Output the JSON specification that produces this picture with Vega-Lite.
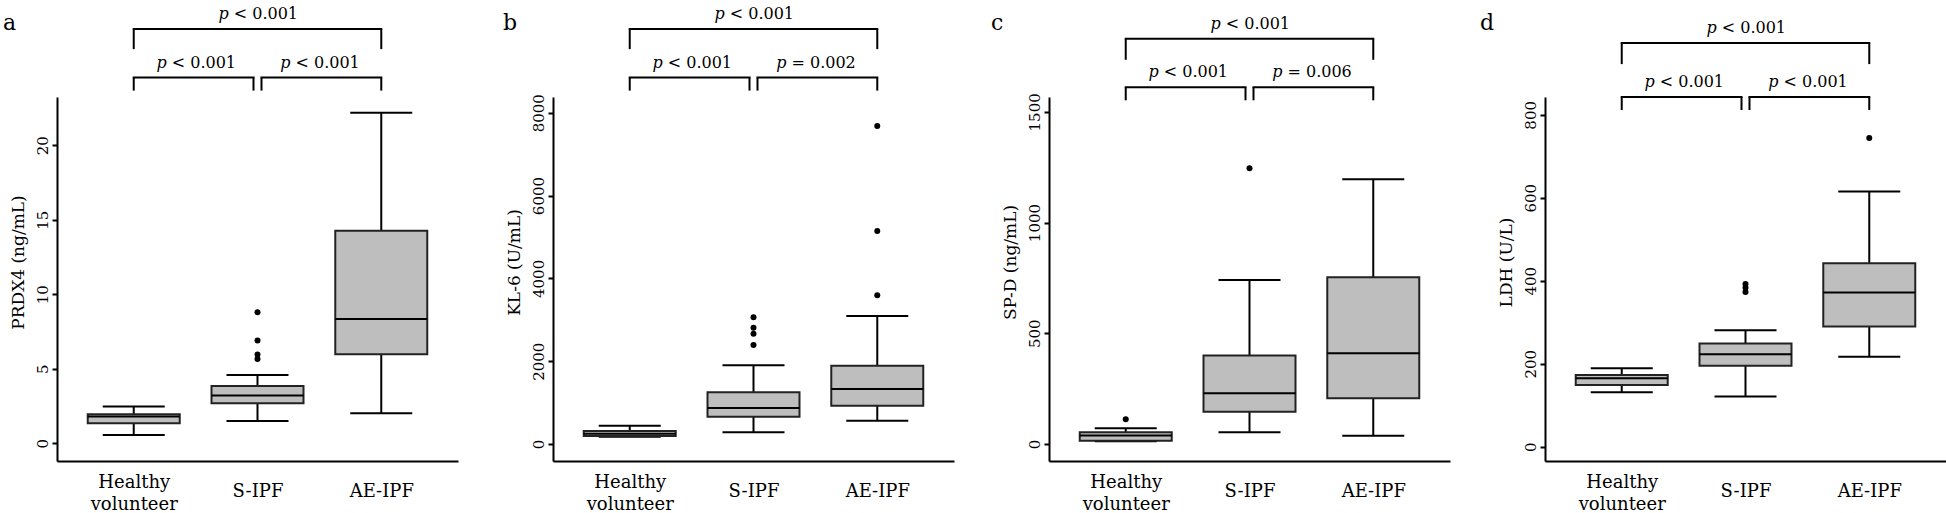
{
  "$schema": "https://vega.github.io/schema/vega-lite/v6.json",
  "background": "white",
  "padding": {"left": 3, "top": 0, "right": 0, "bottom": 0},
  "columns": 4,
  "bounds": "flush",
  "spacing": {"row": 0, "column": 95},
  "resolve": {"scale": {"x": "independent", "y": "independent"}},
  "config": {
    "view": {"stroke": null},
    "font": "DejaVu Serif",
    "axis": {"grid": false, "domainColor": "black", "domainWidth": 2, "tickColor": "black", "tickWidth": 2, "labelColor": "black", "titleColor": "black", "labelFont": "DejaVu Serif", "titleFont": "DejaVu Serif", "titleFontWeight": "normal"},
    "axisY": {"labelAngle": -90, "labelAlign": "center", "labelBaseline": "alphabetic", "labelPadding": 5, "tickSize": 5, "labelFontSize": 15, "titleFontSize": 17, "titlePadding": 8},
    "axisX": {"ticks": false, "tickSize": 0, "labelFontSize": 18, "labelPadding": 30, "labelLineHeight": 22, "labelAngle": 0},
    "rule": {"color": "black", "strokeWidth": 2},
    "tick": {"color": "black", "thickness": 2, "opacity": 1},
    "text": {"font": "DejaVu Serif", "fontSize": 16, "color": "black"},
    "title": {"font": "DejaVu Serif", "fontSize": 22, "fontWeight": "normal", "color": "black", "anchor": "start", "frame": "group", "offset": 0, "baseline": "alphabetic", "dy": 39}
  },
  "datasets": {
    "boxes": [
      {"panel": "a", "group": "Healthy volunteer", "lower": 0.56, "q1": 1.34, "median": 1.79, "q3": 1.95, "upper": 2.46},
      {"panel": "a", "group": "S-IPF", "lower": 1.5, "q1": 2.68, "median": 3.2, "q3": 3.85, "upper": 4.58},
      {"panel": "a", "group": "AE-IPF", "lower": 2.01, "q1": 5.97, "median": 8.34, "q3": 14.27, "upper": 22.19},
      {"panel": "b", "group": "Healthy volunteer", "lower": 176, "q1": 193, "median": 250, "q3": 314, "upper": 442},
      {"panel": "b", "group": "S-IPF", "lower": 282, "q1": 660, "median": 869, "q3": 1248, "upper": 1900},
      {"panel": "b", "group": "AE-IPF", "lower": 563, "q1": 925, "median": 1328, "q3": 1891, "upper": 3091},
      {"panel": "c", "group": "Healthy volunteer", "lower": 12, "q1": 15, "median": 38, "q3": 53, "upper": 71},
      {"panel": "c", "group": "S-IPF", "lower": 53, "q1": 146, "median": 229, "q3": 400, "upper": 740},
      {"panel": "c", "group": "AE-IPF", "lower": 37, "q1": 206, "median": 410, "q3": 753, "upper": 1195},
      {"panel": "d", "group": "Healthy volunteer", "lower": 131, "q1": 149, "median": 165, "q3": 173, "upper": 189},
      {"panel": "d", "group": "S-IPF", "lower": 121, "q1": 195, "median": 223, "q3": 249, "upper": 281},
      {"panel": "d", "group": "AE-IPF", "lower": 217, "q1": 290, "median": 372, "q3": 442, "upper": 615}
    ],
    "outliers": [
      {"panel": "a", "group": "S-IPF", "value": 8.79},
      {"panel": "a", "group": "S-IPF", "value": 6.89},
      {"panel": "a", "group": "S-IPF", "value": 5.95},
      {"panel": "a", "group": "S-IPF", "value": 5.65},
      {"panel": "b", "group": "S-IPF", "value": 3060},
      {"panel": "b", "group": "S-IPF", "value": 2810},
      {"panel": "b", "group": "S-IPF", "value": 2665},
      {"panel": "b", "group": "S-IPF", "value": 2390},
      {"panel": "b", "group": "AE-IPF", "value": 7680},
      {"panel": "b", "group": "AE-IPF", "value": 5144},
      {"panel": "b", "group": "AE-IPF", "value": 3591},
      {"panel": "c", "group": "Healthy volunteer", "value": 112},
      {"panel": "c", "group": "S-IPF", "value": 1245},
      {"panel": "d", "group": "S-IPF", "value": 392},
      {"panel": "d", "group": "S-IPF", "value": 383},
      {"panel": "d", "group": "S-IPF", "value": 373},
      {"panel": "d", "group": "AE-IPF", "value": 744}
    ],
    "brackets": [
      {"panel": "a", "g1": "Healthy volunteer", "g2": "S-IPF", "level": 1, "rel": "< 0.001"},
      {"panel": "a", "g1": "S-IPF", "g2": "AE-IPF", "level": 1, "rel": "< 0.001"},
      {"panel": "a", "g1": "Healthy volunteer", "g2": "AE-IPF", "level": 2, "rel": "< 0.001"},
      {"panel": "b", "g1": "Healthy volunteer", "g2": "S-IPF", "level": 1, "rel": "< 0.001"},
      {"panel": "b", "g1": "S-IPF", "g2": "AE-IPF", "level": 1, "rel": "= 0.002"},
      {"panel": "b", "g1": "Healthy volunteer", "g2": "AE-IPF", "level": 2, "rel": "< 0.001"},
      {"panel": "c", "g1": "Healthy volunteer", "g2": "S-IPF", "level": 1, "rel": "< 0.001"},
      {"panel": "c", "g1": "S-IPF", "g2": "AE-IPF", "level": 1, "rel": "= 0.006"},
      {"panel": "c", "g1": "Healthy volunteer", "g2": "AE-IPF", "level": 2, "rel": "< 0.001"},
      {"panel": "d", "g1": "Healthy volunteer", "g2": "S-IPF", "level": 1, "rel": "< 0.001"},
      {"panel": "d", "g1": "S-IPF", "g2": "AE-IPF", "level": 1, "rel": "< 0.001"},
      {"panel": "d", "g1": "Healthy volunteer", "g2": "AE-IPF", "level": 2, "rel": "< 0.001"}
    ]
  },
  "concat": [
    {
      "width": 401, "height": 97,
      "title": {"text": "a", "dx": -54},
      "data": {"name": "brackets"},
      "transform": [{"filter": "datum.panel == 'a'"}],
      "layer": [
        {"transform": [{"filter": "datum.level == 2"}], "mark": {"type": "rule", "strokeCap": "square"},
         "encoding": {"x": {"field": "g1", "type": "nominal", "scale": {"type": "point", "domain": ["Healthy volunteer", "S-IPF", "AE-IPF"], "padding": 0.62}, "axis": null}, "x2": {"field": "g2"}, "y": {"field": "level", "type": "quantitative", "scale": {"domain": [0.696, 2.428]}, "axis": null}}},
        {"transform": [{"filter": "datum.level == 1 && datum.g1 == 'Healthy volunteer'"}], "mark": {"type": "rule", "strokeCap": "square", "x2Offset": -4},
         "encoding": {"x": {"field": "g1", "type": "nominal", "axis": null}, "x2": {"field": "g2"}, "y": {"field": "level", "type": "quantitative", "axis": null}}},
        {"transform": [{"filter": "datum.level == 1 && datum.g1 == 'S-IPF'"}], "mark": {"type": "rule", "strokeCap": "square", "xOffset": 4},
         "encoding": {"x": {"field": "g1", "type": "nominal", "axis": null}, "x2": {"field": "g2"}, "y": {"field": "level", "type": "quantitative", "axis": null}}},
        {"transform": [{"filter": "datum.level == 2"}, {"fold": ["g1", "g2"], "as": ["end", "grp"]}], "mark": {"type": "rule", "y2Offset": 20},
         "encoding": {"x": {"field": "grp", "type": "nominal", "axis": null}, "y": {"field": "level", "type": "quantitative", "axis": null}, "y2": {"field": "level"}}},
        {"transform": [{"filter": "datum.level == 1"}, {"fold": ["g1", "g2"], "as": ["end", "grp"]}, {"filter": "datum.grp != 'S-IPF'"}], "mark": {"type": "rule", "y2Offset": 13},
         "encoding": {"x": {"field": "grp", "type": "nominal", "axis": null}, "y": {"field": "level", "type": "quantitative", "axis": null}, "y2": {"field": "level"}}},
        {"transform": [{"filter": "datum.level == 1"}, {"fold": ["g1", "g2"], "as": ["end", "grp"]}, {"filter": "datum.grp == 'S-IPF' && datum.end == 'g2'"}], "mark": {"type": "rule", "y2Offset": 13, "xOffset": -4},
         "encoding": {"x": {"field": "grp", "type": "nominal", "axis": null}, "y": {"field": "level", "type": "quantitative", "axis": null}, "y2": {"field": "level"}}},
        {"transform": [{"filter": "datum.level == 1"}, {"fold": ["g1", "g2"], "as": ["end", "grp"]}, {"filter": "datum.grp == 'S-IPF' && datum.end == 'g1'"}], "mark": {"type": "rule", "y2Offset": 13, "xOffset": 4},
         "encoding": {"x": {"field": "grp", "type": "nominal", "axis": null}, "y": {"field": "level", "type": "quantitative", "axis": null}, "y2": {"field": "level"}}},
        {"transform": [{"filter": "datum.level == 1"}], "mark": {"type": "text", "text": "p", "fontStyle": "italic", "align": "right", "baseline": "alphabetic", "dx": 33, "dy": -10},
         "encoding": {"x": {"field": "g1", "type": "nominal", "axis": null}, "y": {"field": "level", "type": "quantitative", "axis": null}}},
        {"transform": [{"filter": "datum.level == 1"}], "mark": {"type": "text", "align": "left", "baseline": "alphabetic", "dx": 38, "dy": -10},
         "encoding": {"x": {"field": "g1", "type": "nominal", "axis": null}, "y": {"field": "level", "type": "quantitative", "axis": null}, "text": {"field": "rel"}}},
        {"transform": [{"filter": "datum.level == 2"}], "mark": {"type": "text", "text": "p", "fontStyle": "italic", "align": "right", "baseline": "alphabetic", "dx": 95, "dy": -10},
         "encoding": {"x": {"field": "g1", "type": "nominal", "axis": null}, "y": {"field": "level", "type": "quantitative", "axis": null}}},
        {"transform": [{"filter": "datum.level == 2"}], "mark": {"type": "text", "align": "left", "baseline": "alphabetic", "dx": 100, "dy": -10},
         "encoding": {"x": {"field": "g1", "type": "nominal", "axis": null}, "y": {"field": "level", "type": "quantitative", "axis": null}, "text": {"field": "rel"}}}
      ]
    },
    {
      "width": 401, "height": 97,
      "title": {"text": "b", "dx": -50},
      "data": {"name": "brackets"},
      "transform": [{"filter": "datum.panel == 'b'"}],
      "layer": [
        {"transform": [{"filter": "datum.level == 2"}], "mark": {"type": "rule", "strokeCap": "square"},
         "encoding": {"x": {"field": "g1", "type": "nominal", "scale": {"type": "point", "domain": ["Healthy volunteer", "S-IPF", "AE-IPF"], "padding": 0.62}, "axis": null}, "x2": {"field": "g2"}, "y": {"field": "level", "type": "quantitative", "scale": {"domain": [0.745, 2.509]}, "axis": null}}},
        {"transform": [{"filter": "datum.level == 1 && datum.g1 == 'Healthy volunteer'"}], "mark": {"type": "rule", "strokeCap": "square", "x2Offset": -4},
         "encoding": {"x": {"field": "g1", "type": "nominal", "axis": null}, "x2": {"field": "g2"}, "y": {"field": "level", "type": "quantitative", "axis": null}}},
        {"transform": [{"filter": "datum.level == 1 && datum.g1 == 'S-IPF'"}], "mark": {"type": "rule", "strokeCap": "square", "xOffset": 4},
         "encoding": {"x": {"field": "g1", "type": "nominal", "axis": null}, "x2": {"field": "g2"}, "y": {"field": "level", "type": "quantitative", "axis": null}}},
        {"transform": [{"filter": "datum.level == 2"}, {"fold": ["g1", "g2"], "as": ["end", "grp"]}], "mark": {"type": "rule", "y2Offset": 20},
         "encoding": {"x": {"field": "grp", "type": "nominal", "axis": null}, "y": {"field": "level", "type": "quantitative", "axis": null}, "y2": {"field": "level"}}},
        {"transform": [{"filter": "datum.level == 1"}, {"fold": ["g1", "g2"], "as": ["end", "grp"]}, {"filter": "datum.grp != 'S-IPF'"}], "mark": {"type": "rule", "y2Offset": 13},
         "encoding": {"x": {"field": "grp", "type": "nominal", "axis": null}, "y": {"field": "level", "type": "quantitative", "axis": null}, "y2": {"field": "level"}}},
        {"transform": [{"filter": "datum.level == 1"}, {"fold": ["g1", "g2"], "as": ["end", "grp"]}, {"filter": "datum.grp == 'S-IPF' && datum.end == 'g2'"}], "mark": {"type": "rule", "y2Offset": 13, "xOffset": -4},
         "encoding": {"x": {"field": "grp", "type": "nominal", "axis": null}, "y": {"field": "level", "type": "quantitative", "axis": null}, "y2": {"field": "level"}}},
        {"transform": [{"filter": "datum.level == 1"}, {"fold": ["g1", "g2"], "as": ["end", "grp"]}, {"filter": "datum.grp == 'S-IPF' && datum.end == 'g1'"}], "mark": {"type": "rule", "y2Offset": 13, "xOffset": 4},
         "encoding": {"x": {"field": "grp", "type": "nominal", "axis": null}, "y": {"field": "level", "type": "quantitative", "axis": null}, "y2": {"field": "level"}}},
        {"transform": [{"filter": "datum.level == 1"}], "mark": {"type": "text", "text": "p", "fontStyle": "italic", "align": "right", "baseline": "alphabetic", "dx": 33, "dy": -10},
         "encoding": {"x": {"field": "g1", "type": "nominal", "axis": null}, "y": {"field": "level", "type": "quantitative", "axis": null}}},
        {"transform": [{"filter": "datum.level == 1"}], "mark": {"type": "text", "align": "left", "baseline": "alphabetic", "dx": 38, "dy": -10},
         "encoding": {"x": {"field": "g1", "type": "nominal", "axis": null}, "y": {"field": "level", "type": "quantitative", "axis": null}, "text": {"field": "rel"}}},
        {"transform": [{"filter": "datum.level == 2"}], "mark": {"type": "text", "text": "p", "fontStyle": "italic", "align": "right", "baseline": "alphabetic", "dx": 95, "dy": -10},
         "encoding": {"x": {"field": "g1", "type": "nominal", "axis": null}, "y": {"field": "level", "type": "quantitative", "axis": null}}},
        {"transform": [{"filter": "datum.level == 2"}], "mark": {"type": "text", "align": "left", "baseline": "alphabetic", "dx": 100, "dy": -10},
         "encoding": {"x": {"field": "g1", "type": "nominal", "axis": null}, "y": {"field": "level", "type": "quantitative", "axis": null}, "text": {"field": "rel"}}}
      ]
    },
    {
      "width": 401, "height": 97,
      "title": {"text": "c", "dx": -58},
      "data": {"name": "brackets"},
      "transform": [{"filter": "datum.panel == 'c'"}],
      "layer": [
        {"transform": [{"filter": "datum.level == 2"}], "mark": {"type": "rule", "strokeCap": "square"},
         "encoding": {"x": {"field": "g1", "type": "nominal", "scale": {"type": "point", "domain": ["Healthy volunteer", "S-IPF", "AE-IPF"], "padding": 0.62}, "axis": null}, "x2": {"field": "g2"}, "y": {"field": "level", "type": "quantitative", "scale": {"domain": [0.8545, 2.618]}, "axis": null}}},
        {"transform": [{"filter": "datum.level == 1 && datum.g1 == 'Healthy volunteer'"}], "mark": {"type": "rule", "strokeCap": "square", "x2Offset": -4},
         "encoding": {"x": {"field": "g1", "type": "nominal", "axis": null}, "x2": {"field": "g2"}, "y": {"field": "level", "type": "quantitative", "axis": null}}},
        {"transform": [{"filter": "datum.level == 1 && datum.g1 == 'S-IPF'"}], "mark": {"type": "rule", "strokeCap": "square", "xOffset": 4},
         "encoding": {"x": {"field": "g1", "type": "nominal", "axis": null}, "x2": {"field": "g2"}, "y": {"field": "level", "type": "quantitative", "axis": null}}},
        {"transform": [{"filter": "datum.level == 2"}, {"fold": ["g1", "g2"], "as": ["end", "grp"]}], "mark": {"type": "rule", "y2Offset": 21},
         "encoding": {"x": {"field": "grp", "type": "nominal", "axis": null}, "y": {"field": "level", "type": "quantitative", "axis": null}, "y2": {"field": "level"}}},
        {"transform": [{"filter": "datum.level == 1"}, {"fold": ["g1", "g2"], "as": ["end", "grp"]}, {"filter": "datum.grp != 'S-IPF'"}], "mark": {"type": "rule", "y2Offset": 13},
         "encoding": {"x": {"field": "grp", "type": "nominal", "axis": null}, "y": {"field": "level", "type": "quantitative", "axis": null}, "y2": {"field": "level"}}},
        {"transform": [{"filter": "datum.level == 1"}, {"fold": ["g1", "g2"], "as": ["end", "grp"]}, {"filter": "datum.grp == 'S-IPF' && datum.end == 'g2'"}], "mark": {"type": "rule", "y2Offset": 13, "xOffset": -4},
         "encoding": {"x": {"field": "grp", "type": "nominal", "axis": null}, "y": {"field": "level", "type": "quantitative", "axis": null}, "y2": {"field": "level"}}},
        {"transform": [{"filter": "datum.level == 1"}, {"fold": ["g1", "g2"], "as": ["end", "grp"]}, {"filter": "datum.grp == 'S-IPF' && datum.end == 'g1'"}], "mark": {"type": "rule", "y2Offset": 13, "xOffset": 4},
         "encoding": {"x": {"field": "grp", "type": "nominal", "axis": null}, "y": {"field": "level", "type": "quantitative", "axis": null}, "y2": {"field": "level"}}},
        {"transform": [{"filter": "datum.level == 1"}], "mark": {"type": "text", "text": "p", "fontStyle": "italic", "align": "right", "baseline": "alphabetic", "dx": 33, "dy": -10},
         "encoding": {"x": {"field": "g1", "type": "nominal", "axis": null}, "y": {"field": "level", "type": "quantitative", "axis": null}}},
        {"transform": [{"filter": "datum.level == 1"}], "mark": {"type": "text", "align": "left", "baseline": "alphabetic", "dx": 38, "dy": -10},
         "encoding": {"x": {"field": "g1", "type": "nominal", "axis": null}, "y": {"field": "level", "type": "quantitative", "axis": null}, "text": {"field": "rel"}}},
        {"transform": [{"filter": "datum.level == 2"}], "mark": {"type": "text", "text": "p", "fontStyle": "italic", "align": "right", "baseline": "alphabetic", "dx": 95, "dy": -10},
         "encoding": {"x": {"field": "g1", "type": "nominal", "axis": null}, "y": {"field": "level", "type": "quantitative", "axis": null}}},
        {"transform": [{"filter": "datum.level == 2"}], "mark": {"type": "text", "align": "left", "baseline": "alphabetic", "dx": 100, "dy": -10},
         "encoding": {"x": {"field": "g1", "type": "nominal", "axis": null}, "y": {"field": "level", "type": "quantitative", "axis": null}, "text": {"field": "rel"}}}
      ]
    },
    {
      "width": 401, "height": 97,
      "title": {"text": "d", "dx": -65},
      "data": {"name": "brackets"},
      "transform": [{"filter": "datum.panel == 'd'"}],
      "layer": [
        {"transform": [{"filter": "datum.level == 2"}], "mark": {"type": "rule", "strokeCap": "square"},
         "encoding": {"x": {"field": "g1", "type": "nominal", "scale": {"type": "point", "domain": ["Healthy volunteer", "S-IPF", "AE-IPF"], "padding": 0.62}, "axis": null}, "x2": {"field": "g2"}, "y": {"field": "level", "type": "quantitative", "scale": {"domain": [1.0, 2.732]}, "axis": null}}},
        {"transform": [{"filter": "datum.level == 1 && datum.g1 == 'Healthy volunteer'"}], "mark": {"type": "rule", "strokeCap": "square", "x2Offset": -4},
         "encoding": {"x": {"field": "g1", "type": "nominal", "axis": null}, "x2": {"field": "g2"}, "y": {"field": "level", "type": "quantitative", "axis": null}}},
        {"transform": [{"filter": "datum.level == 1 && datum.g1 == 'S-IPF'"}], "mark": {"type": "rule", "strokeCap": "square", "xOffset": 4},
         "encoding": {"x": {"field": "g1", "type": "nominal", "axis": null}, "x2": {"field": "g2"}, "y": {"field": "level", "type": "quantitative", "axis": null}}},
        {"transform": [{"filter": "datum.level == 2"}, {"fold": ["g1", "g2"], "as": ["end", "grp"]}], "mark": {"type": "rule", "y2Offset": 21},
         "encoding": {"x": {"field": "grp", "type": "nominal", "axis": null}, "y": {"field": "level", "type": "quantitative", "axis": null}, "y2": {"field": "level"}}},
        {"transform": [{"filter": "datum.level == 1"}, {"fold": ["g1", "g2"], "as": ["end", "grp"]}, {"filter": "datum.grp != 'S-IPF'"}], "mark": {"type": "rule", "y2Offset": 13},
         "encoding": {"x": {"field": "grp", "type": "nominal", "axis": null}, "y": {"field": "level", "type": "quantitative", "axis": null}, "y2": {"field": "level"}}},
        {"transform": [{"filter": "datum.level == 1"}, {"fold": ["g1", "g2"], "as": ["end", "grp"]}, {"filter": "datum.grp == 'S-IPF' && datum.end == 'g2'"}], "mark": {"type": "rule", "y2Offset": 13, "xOffset": -4},
         "encoding": {"x": {"field": "grp", "type": "nominal", "axis": null}, "y": {"field": "level", "type": "quantitative", "axis": null}, "y2": {"field": "level"}}},
        {"transform": [{"filter": "datum.level == 1"}, {"fold": ["g1", "g2"], "as": ["end", "grp"]}, {"filter": "datum.grp == 'S-IPF' && datum.end == 'g1'"}], "mark": {"type": "rule", "y2Offset": 13, "xOffset": 4},
         "encoding": {"x": {"field": "grp", "type": "nominal", "axis": null}, "y": {"field": "level", "type": "quantitative", "axis": null}, "y2": {"field": "level"}}},
        {"transform": [{"filter": "datum.level == 1"}], "mark": {"type": "text", "text": "p", "fontStyle": "italic", "align": "right", "baseline": "alphabetic", "dx": 33, "dy": -10},
         "encoding": {"x": {"field": "g1", "type": "nominal", "axis": null}, "y": {"field": "level", "type": "quantitative", "axis": null}}},
        {"transform": [{"filter": "datum.level == 1"}], "mark": {"type": "text", "align": "left", "baseline": "alphabetic", "dx": 38, "dy": -10},
         "encoding": {"x": {"field": "g1", "type": "nominal", "axis": null}, "y": {"field": "level", "type": "quantitative", "axis": null}, "text": {"field": "rel"}}},
        {"transform": [{"filter": "datum.level == 2"}], "mark": {"type": "text", "text": "p", "fontStyle": "italic", "align": "right", "baseline": "alphabetic", "dx": 95, "dy": -10},
         "encoding": {"x": {"field": "g1", "type": "nominal", "axis": null}, "y": {"field": "level", "type": "quantitative", "axis": null}}},
        {"transform": [{"filter": "datum.level == 2"}], "mark": {"type": "text", "align": "left", "baseline": "alphabetic", "dx": 100, "dy": -10},
         "encoding": {"x": {"field": "g1", "type": "nominal", "axis": null}, "y": {"field": "level", "type": "quantitative", "axis": null}, "text": {"field": "rel"}}}
      ]
    },
    {
      "width": 401, "height": 364,
      "data": {"name": "boxes"},
      "transform": [{"filter": "datum.panel == 'a'"}],
      "encoding": {"x": {"field": "group", "type": "nominal", "scale": {"type": "point", "domain": ["Healthy volunteer", "S-IPF", "AE-IPF"], "padding": 0.62}, "axis": {"title": null, "labelExpr": "split(datum.label, ' ')", "labelBaseline": {"condition": {"test": "datum.label == 'Healthy volunteer'", "value": "bottom"}, "value": "middle"}}}},
      "layer": [
        {"mark": {"type": "rule"}, "encoding": {"y": {"field": "lower", "type": "quantitative", "title": "PRDX4 (ng/mL)", "scale": {"domain": [-1.19, 23.24], "nice": false, "zero": false}, "axis": {"values": [0, 5, 10, 15, 20], "format": "d", "titleY": 165}}, "y2": {"field": "upper"}}},
        {"mark": {"type": "tick", "orient": "horizontal", "size": 62, "opacity": 1}, "encoding": {"y": {"field": "lower", "type": "quantitative", "title": "PRDX4 (ng/mL)"}}},
        {"mark": {"type": "tick", "orient": "horizontal", "size": 62, "opacity": 1}, "encoding": {"y": {"field": "upper", "type": "quantitative", "title": "PRDX4 (ng/mL)"}}},
        {"mark": {"type": "bar", "size": 92, "fill": "#bebebe", "stroke": "#222222", "strokeWidth": 2}, "encoding": {"y": {"field": "q1", "type": "quantitative", "title": "PRDX4 (ng/mL)"}, "y2": {"field": "q3"}}},
        {"mark": {"type": "tick", "orient": "horizontal", "size": 92, "opacity": 1}, "encoding": {"y": {"field": "median", "type": "quantitative", "title": "PRDX4 (ng/mL)"}}},
        {"data": {"name": "outliers"}, "transform": [{"filter": "datum.panel == 'a'"}], "mark": {"type": "circle", "size": 36, "color": "black", "opacity": 1}, "encoding": {"y": {"field": "value", "type": "quantitative", "title": "PRDX4 (ng/mL)"}}}
      ]
    },
    {
      "width": 401, "height": 364,
      "data": {"name": "boxes"},
      "transform": [{"filter": "datum.panel == 'b'"}],
      "encoding": {"x": {"field": "group", "type": "nominal", "scale": {"type": "point", "domain": ["Healthy volunteer", "S-IPF", "AE-IPF"], "padding": 0.62}, "axis": {"title": null, "labelExpr": "split(datum.label, ' ')", "labelBaseline": {"condition": {"test": "datum.label == 'Healthy volunteer'", "value": "bottom"}, "value": "middle"}}}},
      "layer": [
        {"mark": {"type": "rule"}, "encoding": {"y": {"field": "lower", "type": "quantitative", "title": "KL-6 (U/mL)", "scale": {"domain": [-410, 8380], "nice": false, "zero": false}, "axis": {"values": [0, 2000, 4000, 6000, 8000], "format": "d", "titleY": 165}}, "y2": {"field": "upper"}}},
        {"mark": {"type": "tick", "orient": "horizontal", "size": 62, "opacity": 1}, "encoding": {"y": {"field": "lower", "type": "quantitative", "title": "KL-6 (U/mL)"}}},
        {"mark": {"type": "tick", "orient": "horizontal", "size": 62, "opacity": 1}, "encoding": {"y": {"field": "upper", "type": "quantitative", "title": "KL-6 (U/mL)"}}},
        {"mark": {"type": "bar", "size": 92, "fill": "#bebebe", "stroke": "#222222", "strokeWidth": 2}, "encoding": {"y": {"field": "q1", "type": "quantitative", "title": "KL-6 (U/mL)"}, "y2": {"field": "q3"}}},
        {"mark": {"type": "tick", "orient": "horizontal", "size": 92, "opacity": 1}, "encoding": {"y": {"field": "median", "type": "quantitative", "title": "KL-6 (U/mL)"}}},
        {"data": {"name": "outliers"}, "transform": [{"filter": "datum.panel == 'b'"}], "mark": {"type": "circle", "size": 36, "color": "black", "opacity": 1}, "encoding": {"y": {"field": "value", "type": "quantitative", "title": "KL-6 (U/mL)"}}}
      ]
    },
    {
      "width": 401, "height": 364,
      "data": {"name": "boxes"},
      "transform": [{"filter": "datum.panel == 'c'"}],
      "encoding": {"x": {"field": "group", "type": "nominal", "scale": {"type": "point", "domain": ["Healthy volunteer", "S-IPF", "AE-IPF"], "padding": 0.62}, "axis": {"title": null, "labelExpr": "split(datum.label, ' ')", "labelBaseline": {"condition": {"test": "datum.label == 'Healthy volunteer'", "value": "bottom"}, "value": "middle"}}}},
      "layer": [
        {"mark": {"type": "rule"}, "encoding": {"y": {"field": "lower", "type": "quantitative", "title": "SP-D (ng/mL)", "scale": {"domain": [-77, 1567], "nice": false, "zero": false}, "axis": {"values": [0, 500, 1000, 1500], "format": "d", "titleY": 165}}, "y2": {"field": "upper"}}},
        {"mark": {"type": "tick", "orient": "horizontal", "size": 62, "opacity": 1}, "encoding": {"y": {"field": "lower", "type": "quantitative", "title": "SP-D (ng/mL)"}}},
        {"mark": {"type": "tick", "orient": "horizontal", "size": 62, "opacity": 1}, "encoding": {"y": {"field": "upper", "type": "quantitative", "title": "SP-D (ng/mL)"}}},
        {"mark": {"type": "bar", "size": 92, "fill": "#bebebe", "stroke": "#222222", "strokeWidth": 2}, "encoding": {"y": {"field": "q1", "type": "quantitative", "title": "SP-D (ng/mL)"}, "y2": {"field": "q3"}}},
        {"mark": {"type": "tick", "orient": "horizontal", "size": 92, "opacity": 1}, "encoding": {"y": {"field": "median", "type": "quantitative", "title": "SP-D (ng/mL)"}}},
        {"data": {"name": "outliers"}, "transform": [{"filter": "datum.panel == 'c'"}], "mark": {"type": "circle", "size": 36, "color": "black", "opacity": 1}, "encoding": {"y": {"field": "value", "type": "quantitative", "title": "SP-D (ng/mL)"}}}
      ]
    },
    {
      "width": 401, "height": 364,
      "data": {"name": "boxes"},
      "transform": [{"filter": "datum.panel == 'd'"}],
      "encoding": {"x": {"field": "group", "type": "nominal", "scale": {"type": "point", "domain": ["Healthy volunteer", "S-IPF", "AE-IPF"], "padding": 0.62}, "axis": {"title": null, "labelExpr": "split(datum.label, ' ')", "labelBaseline": {"condition": {"test": "datum.label == 'Healthy volunteer'", "value": "bottom"}, "value": "middle"}}}},
      "layer": [
        {"mark": {"type": "rule"}, "encoding": {"y": {"field": "lower", "type": "quantitative", "title": "LDH (U/L)", "scale": {"domain": [-34.5, 843], "nice": false, "zero": false}, "axis": {"values": [0, 200, 400, 600, 800], "format": "d", "titleY": 165}}, "y2": {"field": "upper"}}},
        {"mark": {"type": "tick", "orient": "horizontal", "size": 62, "opacity": 1}, "encoding": {"y": {"field": "lower", "type": "quantitative", "title": "LDH (U/L)"}}},
        {"mark": {"type": "tick", "orient": "horizontal", "size": 62, "opacity": 1}, "encoding": {"y": {"field": "upper", "type": "quantitative", "title": "LDH (U/L)"}}},
        {"mark": {"type": "bar", "size": 92, "fill": "#bebebe", "stroke": "#222222", "strokeWidth": 2}, "encoding": {"y": {"field": "q1", "type": "quantitative", "title": "LDH (U/L)"}, "y2": {"field": "q3"}}},
        {"mark": {"type": "tick", "orient": "horizontal", "size": 92, "opacity": 1}, "encoding": {"y": {"field": "median", "type": "quantitative", "title": "LDH (U/L)"}}},
        {"data": {"name": "outliers"}, "transform": [{"filter": "datum.panel == 'd'"}], "mark": {"type": "circle", "size": 36, "color": "black", "opacity": 1}, "encoding": {"y": {"field": "value", "type": "quantitative", "title": "LDH (U/L)"}}}
      ]
    }
  ]
}
